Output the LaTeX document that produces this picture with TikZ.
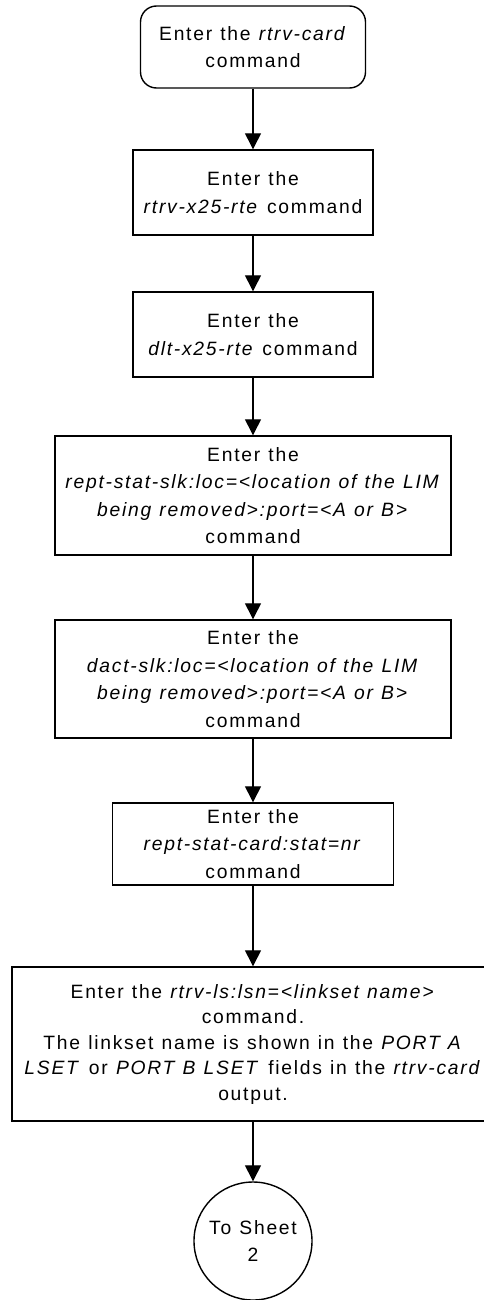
\documentclass[tikz,border=0pt]{standalone}
\usepackage{fontspec}
\setmainfont{Liberation Sans}[LetterSpace=9,WordSpace=1.15]
\usetikzlibrary{arrows.meta,shapes.geometric}
\begin{document}
\begin{tikzpicture}[x=1pt,y=-1pt,
  every node/.style={font=\fontsize{19.3}{27.5}\selectfont},
  stepbox/.style={draw,line width=1.4pt,align=center,inner sep=0pt},
  startbox/.style={stepbox,rounded corners=16pt},
  connbox/.style={draw,circle,line width=1.4pt,align=center,inner sep=0pt,minimum size=118pt},
  flow/.style={line width=1.3pt,-{Triangle[width=16pt,length=16pt]}}]
\useasboundingbox (0,0) rectangle (484,1300);
\node[startbox,minimum width=225pt,minimum height=82pt] (n1) at (253,47) {Enter the \textit{rtrv-card}\\command};
\node[stepbox,minimum width=240pt,minimum height=85pt] (n2) at (253,192.5) {Enter the\\\textit{rtrv-x25-rte} command};
\node[stepbox,minimum width=240pt,minimum height=85pt] (n3) at (253,334.5) {Enter the\\\textit{dlt-x25-rte} command};
\node[stepbox,minimum width=396pt,minimum height=119pt] (n4) at (253,495.5) {Enter the\\\textit{rept-stat-slk:loc=<location of the LIM}\\\textit{being removed>:port=<A or B>}\\command};
\node[stepbox,minimum width=396pt,minimum height=118pt] (n5) at (253,679) {Enter the\\\textit{dact-slk:loc=<location of the LIM}\\\textit{being removed>:port=<A or B>}\\command};
\node[stepbox,minimum width=281pt,minimum height=82pt] (n6) at (253,844) {Enter the\\\textit{rept-stat-card:stat=nr}\\command};
\node[stepbox,minimum width=482pt,minimum height=154pt,font=\fontsize{19.3}{25.5}\selectfont] (n7) at (253,1044) {Enter the \textit{rtrv-ls:lsn=<linkset name>}\\command.\\The linkset name is shown in the \textit{PORT A}\\\textit{LSET} or \textit{PORT B LSET} fields in the \textit{rtrv-card}\\output.};
\node[connbox] (c1) at (253,1241) {To Sheet\\2};
\draw[flow] (n1) -- (n2);
\draw[flow] (n2) -- (n3);
\draw[flow] (n3) -- (n4);
\draw[flow] (n4) -- (n5);
\draw[flow] (n5) -- (n6);
\draw[flow] (n6) -- (n7);
\draw[flow] (n7) -- (c1);
\end{tikzpicture}
\end{document}
